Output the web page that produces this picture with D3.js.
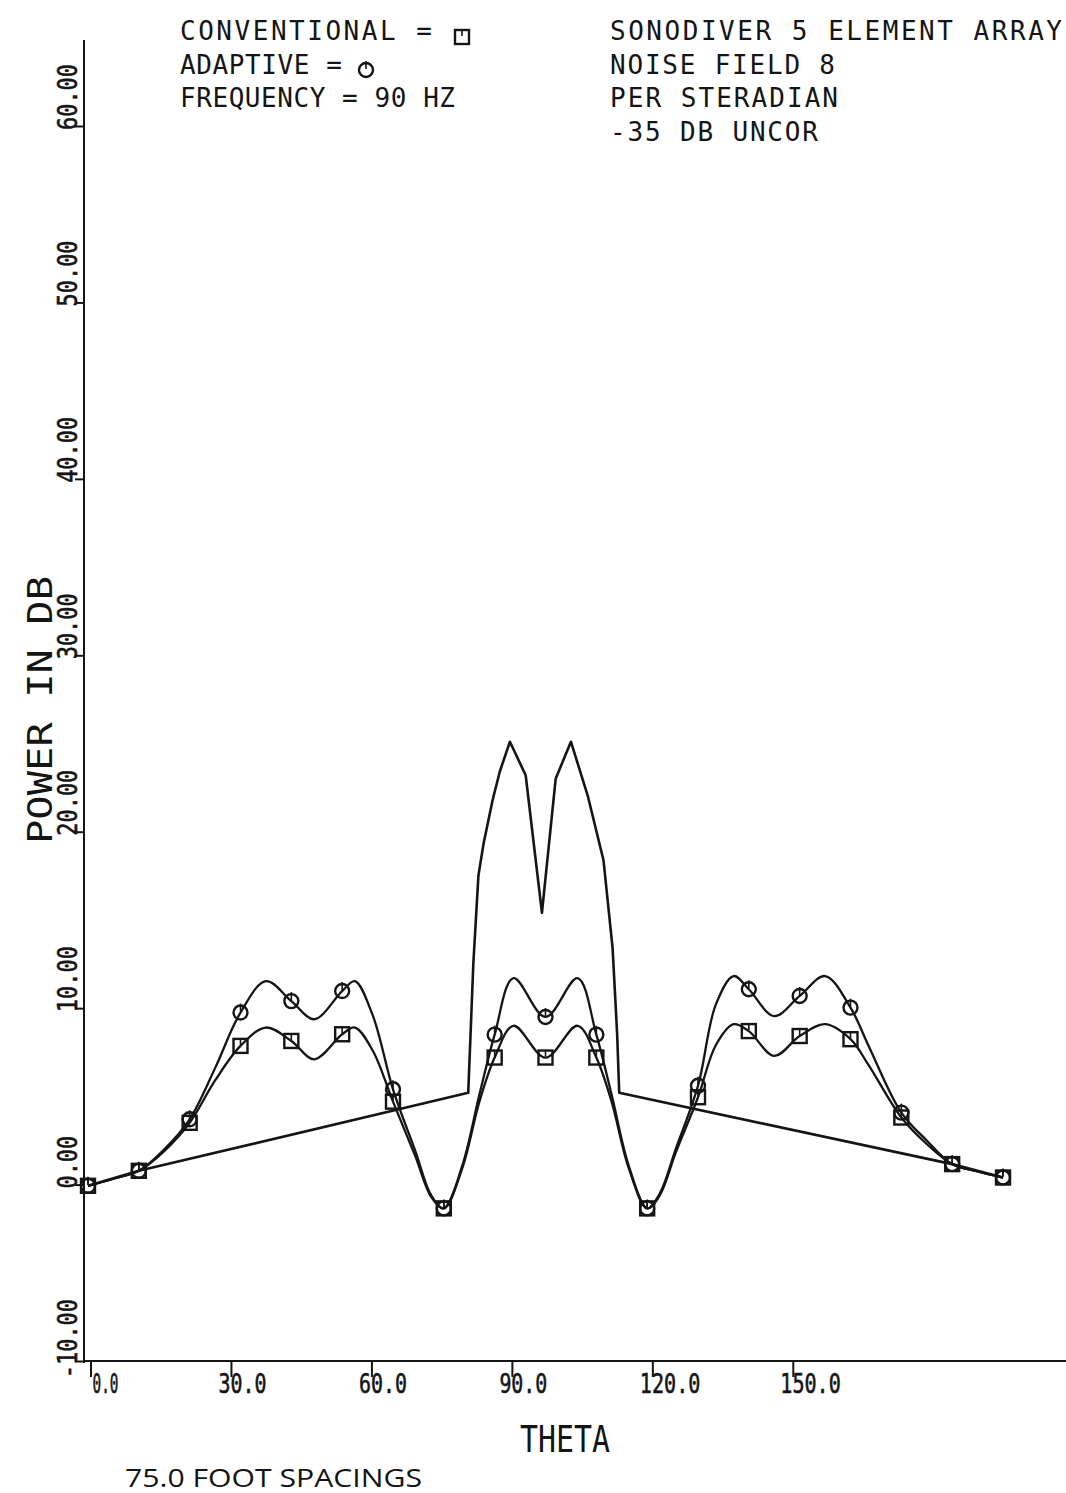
<!DOCTYPE html>
<html><head><meta charset="utf-8">
<script src="https://cdn.jsdelivr.net/npm/d3@7"></script>
<style>
html,body{margin:0;padding:0;background:#fff;}
svg{display:block;}
.plot{font-family:"DejaVu Sans Mono",monospace;fill:#151515;}
</style></head><body>
<svg id="c" width="1066" height="1493"></svg>
<script>
// ---------- data ----------
const thetaTicks = [0, 30, 60, 90, 120, 150];
const thetaTickLabels = ["0.0", "30.0", "60.0", "90.0", "120.0", "150.0"];
const powerTicks = [-10, 0, 10, 20, 30, 40, 50, 60];
const powerTickLabels = ["-10.00", "0.00", "10.00", "20.00", "30.00", "40.00", "50.00", "60.00"];

const curveTheta = [0, 5, 10, 15, 20, 25, 30, 35, 40, 44.5, 50, 52.5, 56, 60, 64.4, 67.5, 70, 73.6, 77, 80,
  83.7, 90, 96.3, 100, 103, 106.4, 110, 112.5, 115.6, 120, 123.5, 127, 130, 135, 140, 145, 150, 153.5,
  160, 165, 170, 175, 180];
const adaptivePower = [-0.07, 0.33, 0.78, 2.0, 3.7, 6.6, 9.75, 11.53, 10.4, 9.37, 10.97, 11.53, 9.6, 5.4, 1.9, -0.6, -1.35, 1.05, 5.1, 8.5,
  11.7, 9.5, 11.7, 8.5, 5.1, 1.05, -1.35, -0.5, 2.0, 5.6, 10.2, 11.82, 11.07, 9.55, 10.69, 11.82, 10.03, 7.9,
  4.08, 2.5, 1.16, 0.75, 0.40];
const conventionalPower = [-0.07, 0.33, 0.78, 1.9, 3.5, 5.9, 7.86, 8.9, 8.14, 7.1, 8.52, 8.9, 7.6, 4.7, 1.6, -0.7, -1.35, 0.9, 4.7, 7.2,
  9.0, 7.2, 9.0, 7.2, 4.7, 0.9, -1.35, -0.6, 1.8, 4.95, 7.9, 9.09, 8.7, 7.29, 8.42, 9.09, 8.24, 6.8,
  3.8, 2.3, 1.16, 0.75, 0.40];

const unmarkedTheta = [0, 10, 74.8, 75.8, 76.8, 77.8, 79.6, 81, 83, 86.1, 89.3, 92.0, 95.0, 98.3, 101.4, 103.2, 104.1, 104.5, 170, 180];
const unmarkedPower = [-0.07, 0.78, 5.2, 12.5, 17.5, 19.3, 21.8, 23.4, 25.1, 23.2, 15.4, 23.0, 25.1, 22.05, 18.4, 13.4, 8.5, 5.2, 1.16, 0.40];

const legendLeft = ["CONVENTIONAL =", "ADAPTIVE =", "FREQUENCY = 90 HZ"];
const legendRight = ["SONODIVER 5 ELEMENT ARRAY", "NOISE FIELD 8", "PER STERADIAN", "-35 DB UNCOR"];

// ---------- drawing ----------
const ink = "#151515";
const svg = d3.select("#c");
svg.append("rect").attr("width", 1066).attr("height", 1493).attr("fill", "#ffffff");

// data scales
const x = d3.scaleLinear().domain([0, 180]).range([88, 1003]);
const y = d3.scaleLinear().domain([-10, 60]).range([1361, 126]);
// the printed theta axis in the original is drawn at a slightly different spacing
const xAxisScale = d3.scaleLinear().domain([0, 150]).range([90.5, 792.8]);
const axisX = 84, axisY = 1361;

// axis lines
svg.append("line").attr("x1", axisX).attr("x2", axisX).attr("y1", 40).attr("y2", axisY + 2)
  .attr("stroke", ink).attr("stroke-width", 2);
svg.append("line").attr("x1", axisX).attr("x2", 1066).attr("y1", axisY).attr("y2", axisY)
  .attr("stroke", ink).attr("stroke-width", 2.2);

const gy = svg.append("g").attr("transform", `translate(${axisX},0)`)
  .call(d3.axisLeft(y).tickValues(powerTicks).tickSize(9).tickFormat(""));
gy.select(".domain").remove();
gy.selectAll("line").attr("stroke", ink).attr("stroke-width", 2);

const gx = svg.append("g").attr("transform", `translate(0,${axisY})`)
  .call(d3.axisBottom(xAxisScale).tickValues(thetaTicks).tickSize(16).tickFormat(""));
gx.select(".domain").remove();
gx.selectAll("line").attr("stroke", ink).attr("stroke-width", 2);

// y tick labels (rotated)
const yAdv = 13.2;
svg.append("g").selectAll("text").data(powerTicks).join("text")
  .attr("class", "plot")
  .attr("transform", (d, i) => {
    const lab = powerTickLabels[i];
    const off = lab.startsWith("-") ? yAdv : 0;
    return `translate(77,${y(d) + 4 + off}) rotate(-90)`;
  })
  .attr("font-size", 27)
  .attr("stroke", ink).attr("stroke-width", 0.6)
  .attr("textLength", (d, i) => powerTickLabels[i].length * yAdv)
  .attr("lengthAdjust", "spacingAndGlyphs")
  .text((d, i) => powerTickLabels[i]);

// x tick labels: tick mark falls at the left edge of the second character
const xAdv = 12.5;
svg.append("g").selectAll("text").data(thetaTicks).join("text")
  .attr("class", "plot")
  .attr("x", (d, i) => thetaTickLabels[i].length > 3 ? xAxisScale(d) - xAdv : xAxisScale(d) + 2)
  .attr("y", 1393)
  .attr("font-size", 27)
  .attr("stroke", ink).attr("stroke-width", 0.6)
  .attr("textLength", (d, i) => thetaTickLabels[i].length > 3 ? thetaTickLabels[i].length * xAdv - 2 : 26)
  .attr("lengthAdjust", "spacingAndGlyphs")
  .text((d, i) => thetaTickLabels[i]);

// axis titles
svg.append("text").attr("class", "plot")
  .attr("transform", "translate(52,710) rotate(-90)")
  .attr("text-anchor", "middle").attr("font-size", 34)
  .attr("textLength", 268).attr("lengthAdjust", "spacingAndGlyphs")
  .text("POWER IN DB");
svg.append("text").attr("class", "plot")
  .attr("x", 565).attr("y", 1452).attr("text-anchor", "middle").attr("font-size", 37)
  .attr("textLength", 90).attr("lengthAdjust", "spacingAndGlyphs")
  .text("THETA");
svg.append("text")
  .attr("x", 125).attr("y", 1487).attr("font-family", "'Open Sans', 'Liberation Sans', sans-serif")
  .attr("font-size", 25).attr("fill", ink)
  .attr("textLength", 297).attr("lengthAdjust", "spacingAndGlyphs")
  .text("75.0 FOOT SPACINGS");

// header text
const hdrY = [40, 74, 107, 141];
const leftLen = [252, 162, 275];
const rightLen = [452, 225, 228, 208];
svg.append("g").selectAll("text").data(legendLeft).join("text")
  .attr("class", "plot").attr("x", 180).attr("y", (d, i) => hdrY[i])
  .attr("font-size", 26).attr("textLength", (d, i) => leftLen[i]).attr("lengthAdjust", "spacing")
  .text(d => d);
svg.append("g").selectAll("text").data(legendRight).join("text")
  .attr("class", "plot").attr("x", 610).attr("y", (d, i) => hdrY[i])
  .attr("font-size", 26).attr("textLength", (d, i) => rightLen[i]).attr("lengthAdjust", "spacing")
  .text(d => d);

// marker drawing helpers
function squareMarker(g, s) {
  g.append("rect").attr("x", -s / 2).attr("y", -s / 2).attr("width", s).attr("height", s)
    .attr("fill", "none").attr("stroke", ink).attr("stroke-width", 2.4);
  g.append("line").attr("x1", 0).attr("x2", 0).attr("y1", -s / 2).attr("y2", -1)
    .attr("stroke", ink).attr("stroke-width", 1.6);
}
function circleMarker(g, s) {
  g.append("circle").attr("r", s / 2).attr("fill", "none").attr("stroke", ink).attr("stroke-width", 2.4);
  g.append("line").attr("x1", 0).attr("x2", 0).attr("y1", -s / 2 - 2).attr("y2", -1)
    .attr("stroke", ink).attr("stroke-width", 1.6);
}

// legend symbols
squareMarker(svg.append("g").attr("transform", "translate(462,37)"), 14);
circleMarker(svg.append("g").attr("transform", "translate(366,70)"), 14);

// curves
const smooth = d3.line().x(d => x(d[0])).y(d => y(d[1])).curve(d3.curveCatmullRom.alpha(0.5));
const straight = d3.line().x(d => x(d[0])).y(d => y(d[1]));

const adaptiveData = curveTheta.map((t, i) => [t, adaptivePower[i]]);
const conventionalData = curveTheta.map((t, i) => [t, conventionalPower[i]]);
const unmarkedData = unmarkedTheta.map((t, i) => [t, unmarkedPower[i]]);

svg.append("path").datum(unmarkedData).attr("d", straight)
  .attr("fill", "none").attr("stroke", ink).attr("stroke-width", 2.6).attr("stroke-linejoin", "round");
svg.append("path").datum(conventionalData).attr("d", smooth)
  .attr("fill", "none").attr("stroke", ink).attr("stroke-width", 2.3);
svg.append("path").datum(adaptiveData).attr("d", smooth)
  .attr("fill", "none").attr("stroke", ink).attr("stroke-width", 2.3);

// markers at every 10 degrees
svg.append("g").selectAll("g").data(conventionalData.filter(d => d[0] % 10 === 0)).join("g")
  .attr("transform", d => `translate(${x(d[0])},${y(d[1])})`)
  .each(function () { squareMarker(d3.select(this), 14); });
svg.append("g").selectAll("g").data(adaptiveData.filter(d => d[0] % 10 === 0)).join("g")
  .attr("transform", d => `translate(${x(d[0])},${y(d[1])})`)
  .each(function () { circleMarker(d3.select(this), 14); });
</script>
</body></html>
